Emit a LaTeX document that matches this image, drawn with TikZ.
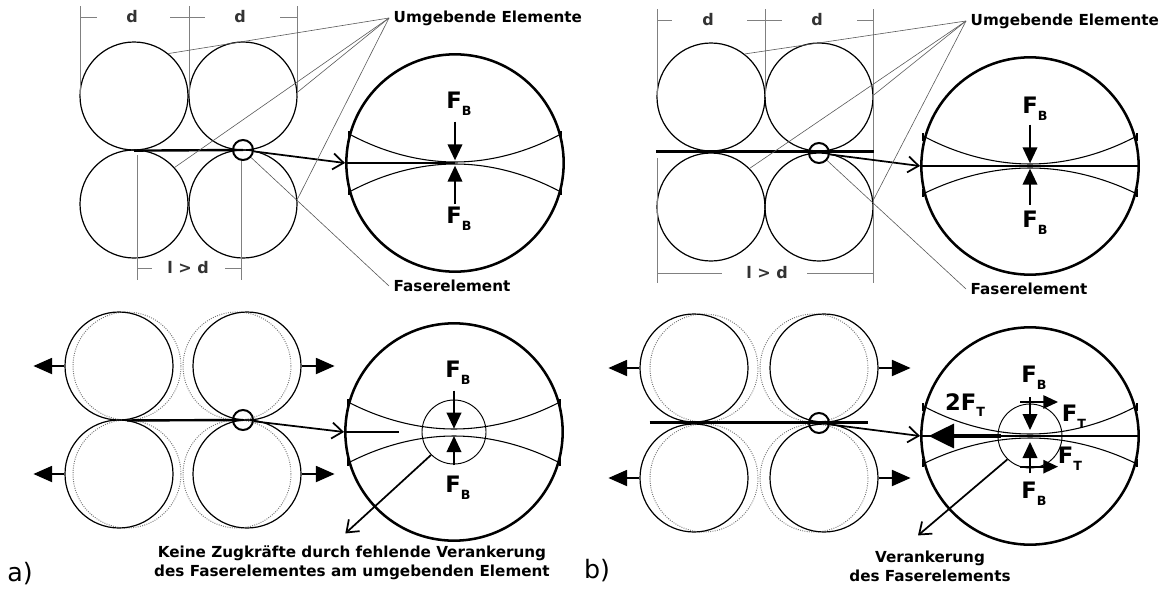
\documentclass[tikz,border=0pt]{standalone}
\usepackage{fontspec}
\setmainfont{DejaVu Sans}
\usetikzlibrary{arrows.meta}
\newcommand{\Fidx}[2]{#1\raisebox{-5pt}{\fontsize{9.5}{9.5}\selectfont #2}}

\begin{document}
\begin{tikzpicture}[x=0.75pt, y=-0.75pt,
  elem/.style={circle, draw, inner sep=0pt, minimum size=81pt, line width=0.9pt},
  shifted/.style={circle, draw=black!55, densely dotted, inner sep=0pt, minimum size=81pt, line width=0.7pt},
  mag/.style={circle, draw, inner sep=0pt, minimum size=163pt, line width=1.9pt},
  spot/.style={circle, draw, inner sep=0pt, minimum size=15pt, line width=1.5pt},
  zone/.style={circle, draw, inner sep=0pt, minimum size=48pt, line width=0.7pt},
  dim/.style={draw=black!50, line width=0.5pt},
  lead/.style={draw=black!65, line width=0.45pt},
  fiber/.style={line width=1.8pt},
  bound/.style={line width=0.8pt},
  pointer/.style={-{Straight Barb[length=8pt,width=12pt]}, line width=1.3pt},
  force/.style={-{Triangle[length=12pt,width=11pt]}, line width=1.2pt},
  tforce/.style={-{Triangle[length=11pt,width=10pt]}, line width=1.3pt},
  pull/.style={-{Triangle[length=14pt,width=12pt]}, line width=1.4pt},
  bigpull/.style={-{Triangle[length=19pt,width=18pt]}, line width=2.6pt},
  txt/.style={font=\fontsize{11.4}{14}\selectfont\bfseries},
  dtxt/.style={font=\fontsize{12}{14}\selectfont\bfseries, text=black!80},
  ftxt/.style={font=\fontsize{17}{19}\selectfont\bfseries, inner sep=0pt},
]
\useasboundingbox (0,0) rectangle (1164,589);

\node[elem] (a1) at (134,96) {};
\node[elem] (a2) at (243,96) {};
\node[elem] (a3) at (134,204) {};
\node[elem] (a4) at (243,204) {};
\draw[dim] (80,6) -- (80,96);
\draw[dim] (189,6) -- (189,96);
\draw[dim] (297,6) -- (297,96);
\draw[dim] (80,17) -- (97,17);
\draw[dim] (170,17) -- (205,17);
\draw[dim] (280,17) -- (297,17);
\node[dtxt] (ada) at (132,17) {d};
\node[dtxt] (adb) at (240,17) {d};
\draw[dim] (137,155) -- (137,280);
\draw[dim] (241,160) -- (241,280);
\draw[dim] (137,268) -- (152,268);
\draw[dim] (225,268) -- (241,268);
\node[dtxt] (al) at (188,268) {l > d};
\node[spot] (as) at (243,150) {};
\draw[fiber] (a1.south) -- (as.center);
\node[mag] (am) at (455,163) {};
\draw[pointer] (as) -- (am.west);
\draw[bound] (351,135) parabola bend (455,162) (559,135);
\draw[bound] (351,191) parabola bend (455,164) (559,191);
\draw[bound] (349,131) -- (349,139);
\draw[bound] (561,131) -- (561,139);
\draw[bound] (349,187) -- (349,195);
\draw[bound] (561,187) -- (561,195);
\draw[fiber] (am.west) -- (am.center);
\draw[force] ([yshift=31pt]am.center) -- ([yshift=2pt]am.center);
\draw[force] ([yshift=-31pt]am.center) -- ([yshift=-2pt]am.center);
\node[ftxt] (afb) at (459,104) {\Fidx{F}{B}};
\node[ftxt] (afc) at (459,219) {\Fidx{F}{B}};
\node[txt, anchor=west] (au) at (389,18) {Umgebende Elemente};
\node[txt, anchor=west] (af) at (389,286) {Faserelement};
\draw[lead] (au.west) -- (a1.51);
\draw[lead] (au.west) -- (a2.4);
\draw[lead] (au.west) -- (a3.42);
\draw[lead] (au.west) -- (a4.5);
\draw[lead] (af.west) -- (as);

\node[shifted] (ap1) at (127,366) {};
\node[shifted] (ap2) at (237,366) {};
\node[shifted] (ap3) at (127,474) {};
\node[shifted] (ap4) at (237,474) {};
\node[elem] (aq1) at (119,366) {};
\node[elem] (aq2) at (247,366) {};
\node[elem] (aq3) at (119,474) {};
\node[elem] (aq4) at (247,474) {};
\draw[pull] (aq1.west) -- ++(-31,0);
\draw[pull] (aq3.west) -- ++(-31,0);
\draw[pull] (aq2.east) -- ++(33,0);
\draw[pull] (aq4.east) -- ++(33,0);
\node[spot] (ar) at (243,420) {};
\draw[fiber] (ap1.south) -- (ar.center);
\node[mag] (an) at (454,432) {};
\draw[pointer] (ar) -- (an.west);
\draw[bound] (350,403) parabola bend (454,429) (558,403);
\draw[bound] (350,462) parabola bend (454,436) (558,462);
\draw[bound] (348,399) -- (348,407);
\draw[bound] (560,399) -- (560,407);
\draw[bound] (348,458) -- (348,466);
\draw[bound] (560,458) -- (560,466);
\draw[fiber] (an.west) -- ([xshift=-41pt]an.center);
\node[zone] (az) at (454,432) {};
\draw[force] ([yshift=31pt]an.center) -- ([yshift=2.5pt]an.center);
\draw[force] ([yshift=-25pt]an.center) -- ([yshift=-3pt]an.center);
\node[ftxt] (ane) at (458,373) {\Fidx{F}{B}};
\node[ftxt] (anf) at (458,488) {\Fidx{F}{B}};
\node[txt, align=center] (ak) at (352,563) {Keine Zugkräfte durch fehlende Verankerung\\des Faserelementes am umgebenden Element};
\draw[pointer] (az.225) -- ([xshift=-5pt,yshift=6pt]ak.north);
\node[font=\fontsize{19}{22}\selectfont] (alab) at (20,574) {a)};

\node[elem] (b1) at (711,97) {};
\node[elem] (b2) at (819,97) {};
\node[elem] (b3) at (711,207) {};
\node[elem] (b4) at (819,207) {};
\draw[dim] (657,9) -- (657,97);
\draw[dim] (765,9) -- (765,97);
\draw[dim] (873,9) -- (873,283);
\draw[dim] (657,158) -- (657,283);
\draw[dim] (657,20) -- (672,20);
\draw[dim] (747,20) -- (782,20);
\draw[dim] (857,20) -- (873,20);
\node[dtxt] (bda) at (708,20) {d};
\node[dtxt] (bdb) at (817,20) {d};
\draw[dim] (657,273) -- (722,273);
\draw[dim] (807,273) -- (873,273);
\node[dtxt] (bl) at (767,273) {l > d};
\node[spot] (bs) at (819,153) {};
\draw[fiber] (b1.west |- b1.south) -- (b2.east |- b2.south);
\node[mag] (bm) at (1030,166) {};
\draw[pointer] (bs) -- (bm.west);
\draw[bound] (925,137) parabola bend (1030,164) (1135,137);
\draw[bound] (925,193) parabola bend (1030,168) (1135,193);
\draw[bound] (923,133) -- (923,141);
\draw[bound] (1137,133) -- (1137,141);
\draw[bound] (923,189) -- (923,197);
\draw[bound] (1137,189) -- (1137,197);
\draw[fiber] (bm.west) -- (bm.east);
\draw[force] ([yshift=31pt]bm.center) -- ([yshift=2pt]bm.center);
\draw[force] ([yshift=-29pt]bm.center) -- ([yshift=-2pt]bm.center);
\node[ftxt] (bfb) at (1035,109) {\Fidx{F}{B}};
\node[ftxt] (bfc) at (1035,223) {\Fidx{F}{B}};
\node[txt, anchor=west] (bu) at (966,21) {Umgebende Elemente};
\node[txt, anchor=west] (bf) at (966,289) {Faserelement};
\draw[lead] (bu.west) -- (b1.52);
\draw[lead] (bu.west) -- (b2.2);
\draw[lead] (bu.west) -- (b3.45);
\draw[lead] (bu.west) -- (b4.7);
\draw[lead] (bf.west) -- (bs);

\node[shifted] (bp1) at (704,368) {};
\node[shifted] (bp2) at (814,368) {};
\node[shifted] (bp3) at (704,478) {};
\node[shifted] (bp4) at (814,478) {};
\node[elem] (bq1) at (694,368) {};
\node[elem] (bq2) at (824,368) {};
\node[elem] (bq3) at (694,478) {};
\node[elem] (bq4) at (824,478) {};
\draw[pull] (bq1.west) -- ++(-31,0);
\draw[pull] (bq3.west) -- ++(-31,0);
\draw[pull] (bq2.east) -- ++(32,0);
\draw[pull] (bq4.east) -- ++(32,0);
\node[spot] (br) at (819,423) {};
\draw[fiber] (bp1.west |- bp1.south) -- (bp2.east |- bp2.south);
\node[mag] (bn) at (1030,436) {};
\draw[pointer] (br) -- (bn.west);
\draw[bound] (925,407) parabola bend (1030,434) (1135,407);
\draw[bound] (925,463) parabola bend (1030,438) (1135,463);
\draw[bound] (923,403) -- (923,411);
\draw[bound] (1137,403) -- (1137,411);
\draw[bound] (923,459) -- (923,467);
\draw[bound] (1137,459) -- (1137,467);
\draw[fiber] (bn.west) -- (bn.east);
\node[zone] (bz) at (1030,436) {};
\draw[bigpull] ([xshift=-22pt]bn.center) -- ([xshift=-76pt]bn.center);
\draw[force] ([yshift=29pt]bn.center) -- ([yshift=4.5pt]bn.center);
\draw[force] ([yshift=-28pt]bn.center) -- ([yshift=-4.5pt]bn.center);
\draw[tforce] ([shift={(-7.5pt,25.5pt)}]bn.center) -- ([shift={(21pt,25.5pt)}]bn.center);
\draw[tforce] ([shift={(-7.5pt,-23pt)}]bn.center) -- ([shift={(21pt,-23pt)}]bn.center);
\node[ftxt] (bne) at (1034,378) {\Fidx{F}{B}};
\node[ftxt] (bnf) at (1034,494) {\Fidx{F}{B}};
\node[ftxt] (bnt) at (1074,417) {\Fidx{F}{T}};
\node[ftxt] (bnu) at (1070,459) {\Fidx{F}{T}};
\node[ftxt] (bnw) at (965,405) {\Fidx{2F}{T}};
\node[txt, align=center] (bv) at (930,566) {Verankerung\\des Faserelements};
\draw[pointer] (bz.226) -- ([xshift=-9pt,yshift=8pt]bv.north);
\node[font=\fontsize{19}{22}\selectfont] (blab) at (597,571) {b)};
\end{tikzpicture}
\end{document}
